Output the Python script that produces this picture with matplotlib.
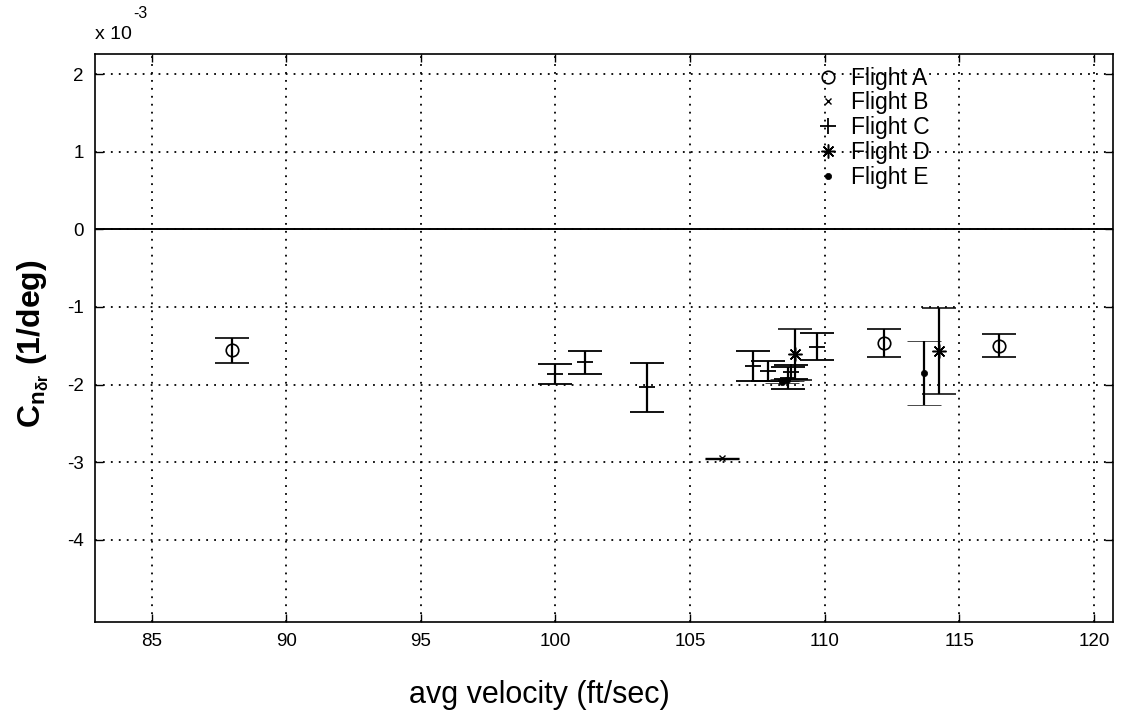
import matplotlib
matplotlib.use("Agg")
import matplotlib.pyplot as plt
from matplotlib.lines import Line2D

plt.rcParams['font.family'] = ['Liberation Sans', 'DejaVu Sans']
plt.rcParams['mathtext.fontset'] = 'custom'
plt.rcParams['mathtext.rm'] = 'Liberation Sans'
plt.rcParams['mathtext.it'] = 'Liberation Sans'
plt.rcParams['mathtext.bf'] = 'Liberation Sans:bold'

# Yaw control derivative estimates (units of 1e-3 per deg) vs. average velocity
flight_a_v = [88.0, 112.2, 116.45]
flight_a_cn = [-1.56, -1.465, -1.50]
flight_a_err = [0.16, 0.185, 0.15]

flight_b_v = [106.2]
flight_b_cn = [-2.95]
flight_b_err = [0.005]

flight_c_v = [100.0, 101.1, 103.4, 107.35, 107.9, 108.65, 108.75, 109.7]
flight_c_cn = [-1.865, -1.715, -2.035, -1.76, -1.83, -1.915, -1.84, -1.51]
flight_c_err = [0.125, 0.145, 0.315, 0.19, 0.13, 0.145, 0.09, 0.18]

flight_d_v = [108.9, 114.25]
flight_d_cn = [-1.61, -1.57]
flight_d_err = [0.33, 0.55]

flight_e_v = [108.4, 108.6, 113.7]
flight_e_cn = [-1.965, -1.945, -1.85]
flight_e_err = [0.015, 0.015, 0.41]

legend_labels = ['Flight A', 'Flight B', 'Flight C', 'Flight D', 'Flight E']
x_ticks = [85, 90, 95, 100, 105, 110, 115, 120]
y_ticks = [-4, -3, -2, -1, 0, 1, 2]

fig = plt.figure(figsize=(11.29, 7.14), dpi=100)
ax = fig.add_axes([0.0841, 0.1289, 0.9017, 0.7955])

series = [
    (flight_a_v, flight_a_cn, flight_a_err, dict(marker='o', ms=9, mfc='none', mew=1.2)),
    (flight_b_v, flight_b_cn, flight_b_err, dict(marker='x', ms=5, mew=1.0)),
    (flight_c_v, flight_c_cn, flight_c_err, dict(marker='+', ms=11, mew=1.3)),
    (flight_d_v, flight_d_cn, flight_d_err, dict(marker=(8, 2, 0), ms=10, mew=1.1)),
    (flight_e_v, flight_e_cn, flight_e_err, dict(marker='o', ms=4.5, mew=0.5)),
]

for v, cn, err, mk in series:
    ax.errorbar(v, cn, yerr=err, linestyle='none', color='k', ecolor='k',
                elinewidth=1.6, capsize=11.9, capthick=1.6, zorder=3, **mk)

ax.axhline(0, color='k', lw=1.4, zorder=2)

ax.set_xlim(82.9, 120.7)
ax.set_ylim(-5.06, 2.26)
ax.set_xticks(x_ticks)
ax.set_yticks(y_ticks)
ax.set_xticklabels([str(t) for t in x_ticks])
ax.set_yticklabels([str(t) for t in y_ticks])
ax.tick_params(direction='in', length=6, width=1, top=True, right=True,
               labelsize=13.5, pad=8, colors='k')
for s in ax.spines.values():
    s.set_linewidth(1.2)
    s.set_color('k')

ax.grid(True, color='k', linestyle=(0, (1, 3.4)), linewidth=1.3)
ax.set_axisbelow(True)

ax.set_xlabel('avg velocity (ft/sec)', fontsize=22)
ax.xaxis.set_label_coords(0.437, -0.103)
ax.set_ylabel(r'$\mathbf{C}_{\mathbf{n}_{\mathbf{\delta r}}}$ (1/deg)', fontsize=23,
              fontweight='bold')
ax.yaxis.set_label_coords(-0.043, 0.49)

handles = [Line2D([], [], linestyle='none', color='k', **mk) for _, _, _, mk in series]
ax.legend(handles, legend_labels, loc='upper left', bbox_to_anchor=(0.693, 1.006),
          frameon=False, fontsize=16.5, handlelength=1.0, handletextpad=0.5,
          labelspacing=0.08, borderaxespad=0.3)

fig.text(0.084, 0.945, 'x 10', fontsize=14, ha='left', va='baseline')
fig.text(0.118, 0.975, '-3', fontsize=11.5, ha='left', va='baseline')

fig.savefig('out.png', dpi=100, facecolor='white')
